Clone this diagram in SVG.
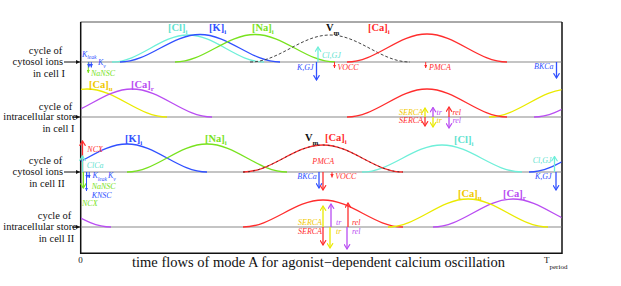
<svg xmlns="http://www.w3.org/2000/svg" width="621" height="286" viewBox="0 0 621 286">
<style>
text{font-family:"Liberation Serif","Times New Roman",serif}
.lbl{font-size:10.5px;fill:#111}
.ion{font-size:10.5px;font-weight:bold}
.sub{font-size:7px}
.it{font-size:8px;font-style:italic}
.isub{font-size:5.5px;font-style:italic}
.c{fill:none;stroke-width:1.3}
.vm{fill:none;stroke:#444;stroke-width:1;stroke-dasharray:3 2}
.vm2{fill:none;stroke:#3a2222;stroke-width:0.8;stroke-dasharray:2 3}
.base{stroke:#8a8a8a;stroke-width:1.2}
.r{stroke:#ff2d2d}.b{stroke:#3050ff}.g{stroke:#78e21e}.cy{stroke:#6eefd9}.y{stroke:#eaea00}.p{stroke:#b94df2}
.tr{fill:#ff2d2d}.tb{fill:#3050ff}.tg{fill:#78e21e}.tc{fill:#5fe3cf}.ty{fill:#f0c800}.tp{fill:#b94df2}.tk{fill:#111}
.ar{stroke-width:1.3;fill:none}
.ar.r{marker-end:url(#hr)}.ar.b{marker-end:url(#hb)}.ar.g{marker-end:url(#hg)}.ar.cy{marker-end:url(#hc)}.ar.y{marker-end:url(#hy)}.ar.p{marker-end:url(#hp)}
.sm{stroke-width:1;fill:none}
.sm.r{marker-end:url(#sr)}.sm.b{marker-end:url(#sb)}.sm.g{marker-end:url(#sg)}
.blk{stroke:#111;stroke-width:1;marker-end:url(#sk)}
</style>
<defs>
<clipPath id="fr"><rect x="81" y="22.5" width="480.5" height="230.5"/></clipPath>
<marker id="hr" viewBox="0 0 6 7" refX="5.3" refY="3.5" markerWidth="6" markerHeight="7" markerUnits="userSpaceOnUse" orient="auto"><path d="M0.5,0.5 L5.3,3.5 L0.5,6.5" fill="none" stroke="#ff2d2d" stroke-width="1.2"/></marker>
<marker id="hb" viewBox="0 0 6 7" refX="5.3" refY="3.5" markerWidth="6" markerHeight="7" markerUnits="userSpaceOnUse" orient="auto"><path d="M0.5,0.5 L5.3,3.5 L0.5,6.5" fill="none" stroke="#3050ff" stroke-width="1.2"/></marker>
<marker id="hg" viewBox="0 0 6 7" refX="5.3" refY="3.5" markerWidth="6" markerHeight="7" markerUnits="userSpaceOnUse" orient="auto"><path d="M0.5,0.5 L5.3,3.5 L0.5,6.5" fill="none" stroke="#78e21e" stroke-width="1.2"/></marker>
<marker id="hc" viewBox="0 0 6 7" refX="5.3" refY="3.5" markerWidth="6" markerHeight="7" markerUnits="userSpaceOnUse" orient="auto"><path d="M0.5,0.5 L5.3,3.5 L0.5,6.5" fill="none" stroke="#6eefd9" stroke-width="1.2"/></marker>
<marker id="hy" viewBox="0 0 6 7" refX="5.3" refY="3.5" markerWidth="6" markerHeight="7" markerUnits="userSpaceOnUse" orient="auto"><path d="M0.5,0.5 L5.3,3.5 L0.5,6.5" fill="none" stroke="#eaea00" stroke-width="1.2"/></marker>
<marker id="hp" viewBox="0 0 6 7" refX="5.3" refY="3.5" markerWidth="6" markerHeight="7" markerUnits="userSpaceOnUse" orient="auto"><path d="M0.5,0.5 L5.3,3.5 L0.5,6.5" fill="none" stroke="#b94df2" stroke-width="1.2"/></marker>
<marker id="sr" viewBox="0 0 4 4" refX="4" refY="2" markerWidth="3.5" markerHeight="3.5" markerUnits="userSpaceOnUse" orient="auto"><path d="M0,0 L4,2 L0,4 z" fill="#ff2d2d"/></marker>
<marker id="sb" viewBox="0 0 4 4" refX="4" refY="2" markerWidth="3.5" markerHeight="3.5" markerUnits="userSpaceOnUse" orient="auto"><path d="M0,0 L4,2 L0,4 z" fill="#3050ff"/></marker>
<marker id="sg" viewBox="0 0 4 4" refX="4" refY="2" markerWidth="3.5" markerHeight="3.5" markerUnits="userSpaceOnUse" orient="auto"><path d="M0,0 L4,2 L0,4 z" fill="#78e21e"/></marker>
<marker id="sk" viewBox="0 0 4 4" refX="4" refY="2" markerWidth="4" markerHeight="4" markerUnits="userSpaceOnUse" orient="auto"><path d="M0,0 L4,2 L0,4 z" fill="#111"/></marker>
</defs>

<g id="frame">
<line x1="80.5" y1="22" x2="562" y2="22" stroke="#555" stroke-width="1"/>
<path d="M80.7,22 V253.3 H562 V22" fill="none" stroke="#111" stroke-width="1.5"/>
<line class="base" x1="81" y1="62" x2="561.5" y2="62"/>
<line class="base" x1="81" y1="117" x2="561.5" y2="117"/>
<line class="base" x1="81" y1="172" x2="561.5" y2="172"/>
<line class="base" x1="81" y1="227" x2="561.5" y2="227"/>
</g>

<g id="row-labels" class="lbl">
<g id="label-cell1-cytosol">
<text x="45.5" y="54" text-anchor="middle">cycle of</text>
<text x="63" y="65" text-anchor="end">cytosol ions</text>
<text x="49" y="76.5" text-anchor="middle">in cell I</text>
</g>
<g id="label-cell1-store">
<text x="55.5" y="109.5" text-anchor="middle">cycle of</text>
<text x="77" y="120.3" text-anchor="end">intracellular store</text>
<text x="58.5" y="131.5" text-anchor="middle">in cell I</text>
</g>
<g id="label-cell2-cytosol">
<text x="45.5" y="163.5" text-anchor="middle">cycle of</text>
<text x="63" y="175" text-anchor="end">cytosol ions</text>
<text x="47" y="186.5" text-anchor="middle">in cell II</text>
</g>
<g id="label-cell2-store">
<text x="54.5" y="219" text-anchor="middle">cycle of</text>
<text x="77" y="230.3" text-anchor="end">intracellular store</text>
<text x="56.5" y="242" text-anchor="middle">in cell II</text>
</g>
</g>

<g id="curves" clip-path="url(#fr)">
<g id="cell1-cytosol">
<path class="c cy" d="M112,62 C139.6,62 160.4,35 188,35 C215.6,35 236.4,62 264,62"/>
<path class="c b" d="M120,62 C149,62 171,34.5 200,34.5 C229,34.5 251,62 280,62"/>
<path class="c g" d="M175,62 C204,62 226,34.5 255,34.5 C284,34.5 306,62 335,62"/>
<path class="vm" d="M250,62 C279,62 301,35 330,35 C359,35 381,62 410,62"/>
<path class="c r" d="M347,62 C376,62 398,34 427,34 C456,34 478,62 507,62"/>
</g>
<g id="cell1-store">
<path class="c y" d="M7,117 C36,117 58,89 87,89 C116,89 138,117 167,117 M489,117 C518,117 540,89 569,89 C598,89 620,117 649,117"/>
<path class="c p" d="M52,117 C81,117 103,89 132,89 C161,89 183,117 212,117 M534,117 C563,117 585,89 614,89 C643,89 665,117 694,117"/>
<path class="c r" d="M347,117 C376,117 398,89 427,89 C456,89 478,117 507,117"/>
</g>
<g id="cell2-cytosol">
<path class="c b" d="M47,172 C76,172 98,144 127,144 C156,144 178,172 207,172 M529,172 C558,172 580,144 609,144 C638,144 660,172 689,172"/>
<path class="c g" d="M127,172 C156,172 178,144 207,144 C236,144 258,172 287,172"/>
<path class="c cy" d="M362,172 C391,172 413,145 442,145 C471,145 493,172 522,172"/>
<path class="c r" d="M243,172 C272,172 294,145 323,145 C352,145 374,172 403,172"/>
<path class="vm2" d="M243,172 C272,172 294,145 323,145 C352,145 374,172 403,172"/>
</g>
<g id="cell2-store">
<path class="c p" d="M-49,227 C-20,227 2,199 31,199 C60,199 82,227 111,227 M433,227 C462,227 484,199 513,199 C542,199 564,227 593,227"/>
<path class="c r" d="M243,227 C272,227 294,200 323,200 C352,200 374,227 403,227"/>
<path class="c y" d="M388,227 C417,227 439,199 468,199 C497,199 519,227 548,227"/>
</g>
</g>

<g id="curve-labels">
<text class="ion tc" x="168" y="31">[Cl]<tspan class="sub" dy="3">i</tspan></text>
<text class="ion tb" x="209" y="31">[K]<tspan class="sub" dy="3">i</tspan></text>
<text class="ion tg" x="252" y="31">[Na]<tspan class="sub" dy="3">i</tspan></text>
<text class="ion tk" x="326" y="31">V<tspan class="sub" dy="4">m</tspan></text>
<text class="ion tr" x="368" y="31">[Ca]<tspan class="sub" dy="3">i</tspan></text>
<text class="ion ty" x="89" y="88">[Ca]<tspan class="sub" dy="3">u</tspan></text>
<text class="ion tp" x="131" y="88">[Ca]<tspan class="sub" dy="3">r</tspan></text>
<text class="ion tb" x="125" y="141.5">[K]<tspan class="sub" dy="3">i</tspan></text>
<text class="ion tg" x="205" y="141.5">[Na]<tspan class="sub" dy="3">i</tspan></text>
<text class="ion tk" x="305" y="141">V<tspan class="sub" dy="4">m</tspan></text>
<text class="ion tr" x="325" y="141">[Ca]<tspan class="sub" dy="3">i</tspan></text>
<text class="ion tc" x="454" y="142.5">[Cl]<tspan class="sub" dy="3">i</tspan></text>
<text class="ion ty" x="458" y="197">[Ca]<tspan class="sub" dy="3">u</tspan></text>
<text class="ion tp" x="503" y="197">[Ca]<tspan class="sub" dy="3">r</tspan></text>
</g>

<g id="connectors">
<line class="blk" x1="64" y1="62" x2="80" y2="62"/>
<line class="blk" x1="72" y1="117" x2="80" y2="117"/>
<line class="blk" x1="64" y1="172" x2="80" y2="172"/>
<line class="blk" x1="72" y1="227" x2="80" y2="227"/>
<line class="sm g" x1="88.3" y1="62" x2="88.3" y2="73"/>
<line class="sm b" x1="88.8" y1="62" x2="88.8" y2="67.5"/>
<line class="sm b" x1="91.3" y1="62" x2="91.3" y2="67.5"/>
<line class="ar cy" x1="318" y1="62" x2="318" y2="47"/>
<line class="ar b" x1="316.5" y1="62" x2="316.5" y2="80"/>
<line class="sm r" x1="334.5" y1="62" x2="334.5" y2="68"/>
<line class="sm r" x1="425.7" y1="62" x2="425.7" y2="68"/>
<line class="ar b" x1="556.5" y1="62" x2="556.5" y2="78"/>
<line class="ar y" x1="425" y1="117" x2="425" y2="108"/>
<line class="ar r" x1="425" y1="117" x2="425" y2="126"/>
<line class="ar p" x1="433" y1="117" x2="433" y2="107.5"/>
<line class="ar y" x1="433" y1="117" x2="433" y2="127"/>
<line class="ar r" x1="449" y1="117" x2="449" y2="107"/>
<line class="ar p" x1="449" y1="117" x2="449" y2="128"/>
<line class="ar r" x1="82.5" y1="172" x2="82.5" y2="141"/>
<line class="ar cy" x1="82.5" y1="172" x2="82.5" y2="156"/>
<line class="ar g" x1="83.3" y1="172" x2="83.3" y2="188"/>
<line class="sm b" x1="86.5" y1="172" x2="86.5" y2="191"/>
<line class="sm b" x1="86.8" y1="172" x2="86.8" y2="178"/>
<line class="sm b" x1="89.2" y1="172" x2="89.2" y2="178"/>
<line class="ar b" x1="319" y1="172" x2="319" y2="188"/>
<line class="ar r" x1="323" y1="172" x2="323" y2="190"/>
<line class="sm r" x1="332" y1="172" x2="332" y2="177.5"/>
<line class="ar cy" x1="554.5" y1="172" x2="554.5" y2="156.5"/>
<line class="ar b" x1="556" y1="172" x2="556" y2="190"/>
<line class="ar y" x1="323" y1="227" x2="323" y2="206"/>
<line class="ar r" x1="323" y1="227" x2="323" y2="245"/>
<line class="ar p" x1="331" y1="227" x2="331" y2="204"/>
<line class="ar y" x1="330" y1="227" x2="330" y2="248"/>
<line class="ar r" x1="348" y1="227" x2="348" y2="203"/>
<line class="ar p" x1="347" y1="227" x2="347" y2="249"/>
</g>

<g id="flux-labels">
<text class="it tb" x="82" y="56.5" font-size="7.5">K<tspan class="isub" dy="2.5">leak</tspan></text>
<text class="it tb" x="98" y="65" font-size="7.5">K<tspan class="isub" dy="2.5">v</tspan></text>
<text class="it tg" x="91" y="76">NaNSC</text>
<text class="it tc" x="322" y="58">Cl,GJ</text>
<text class="it tb" x="297" y="70">K,GJ</text>
<text class="it tr" x="337.5" y="69.5">VOCC</text>
<text class="it tr" x="429" y="69.5">PMCA</text>
<text class="it tb" x="534" y="69">BKCa</text>
<text class="it ty" x="423" y="114.5" text-anchor="end">SERCA</text>
<text class="it tr" x="423" y="123" text-anchor="end">SERCA</text>
<text class="it tp" x="436.5" y="114.5">tr</text>
<text class="it ty" x="436.5" y="123">tr</text>
<text class="it tr" x="452.5" y="114.5">rel</text>
<text class="it tp" x="452.5" y="123">rel</text>
<text class="it tr" x="87.3" y="151.5">NCX</text>
<text class="it tc" x="86.7" y="168">ClCa</text>
<text class="it tb" x="92.5" y="178" font-size="7.5">K<tspan class="isub" dy="2.5">leak</tspan></text>
<text class="it tb" x="108" y="178" font-size="7.5">K<tspan class="isub" dy="2.5">v</tspan></text>
<text class="it tg" x="91.7" y="189">NaNSC</text>
<text class="it tb" x="91.7" y="197.5">KNSC</text>
<text class="it tg" x="82" y="206">NCX</text>
<text class="it tr" x="312.3" y="164.3">PMCA</text>
<text class="it tb" x="297.3" y="179.3">BKCa</text>
<text class="it tr" x="335.3" y="179.3">VOCC</text>
<text class="it tc" x="532.7" y="163.3">Cl,GJ</text>
<text class="it tb" x="535" y="179.3">K,GJ</text>
<text class="it ty" x="298" y="224.5">SERCA</text>
<text class="it tr" x="298" y="233.5">SERCA</text>
<text class="it tp" x="336" y="224.5">tr</text>
<text class="it ty" x="336" y="233.5">tr</text>
<text class="it tr" x="352" y="224.5">rel</text>
<text class="it tp" x="352" y="233.5">rel</text>
</g>

<g id="axis-labels">
<text x="80.5" y="263.3" text-anchor="middle" font-size="9" fill="#111">0</text>
<text x="132" y="266.5" font-size="14.5" fill="#111">time flows of mode A for agonist−dependent calcium oscillation</text>
<text x="544" y="263.3" font-size="9" fill="#111">T<tspan font-size="7" dy="5.5">period</tspan></text>
</g>
</svg>
